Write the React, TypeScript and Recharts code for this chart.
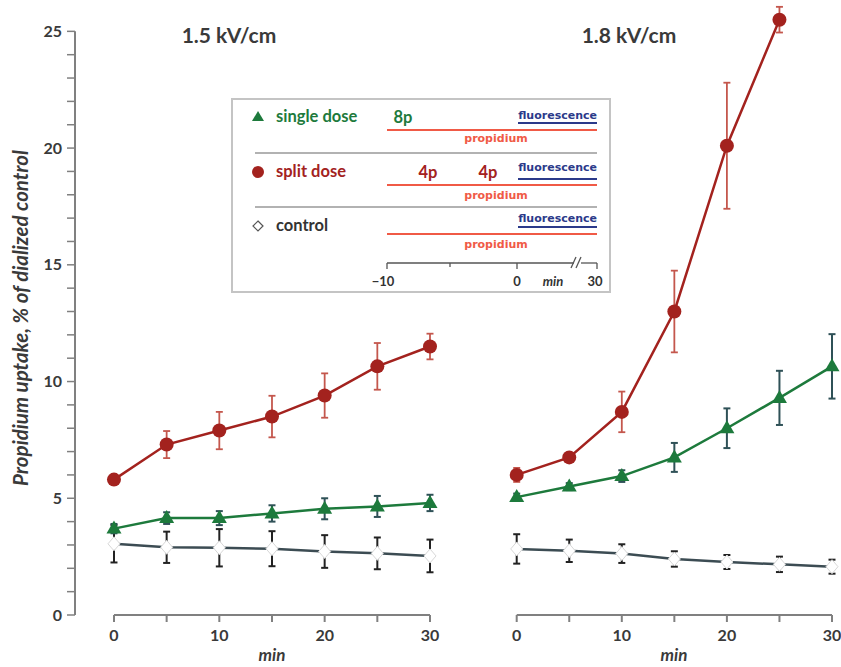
import React from "react";
import { ErrorBar, Line, LineChart, ReferenceLine, XAxis, YAxis } from "recharts";

const MINUTES = [0, 5, 10, 15, 20, 25, 30];
const X_TICKS = [0, 5, 10, 15, 20, 25, 30];
const Y_TICKS = [0, 1, 2, 3, 4, 5, 6, 7, 8, 9, 10, 11, 12, 13, 14, 15, 16, 17, 18, 19, 20, 21, 22, 23, 24, 25];

// 1.5 kV/cm
const SPLIT_15 = [5.8, 7.3, 7.9, 8.5, 9.4, 10.65, 11.5];
const SPLIT_15_ERR = [0.2, 0.58, 0.8, 0.89, 0.95, 1.0, 0.55];
const SINGLE_15 = [3.7, 4.15, 4.15, 4.35, 4.55, 4.65, 4.8];
const SINGLE_15_ERR = [0.2, 0.25, 0.3, 0.35, 0.45, 0.45, 0.35];
const CONTROL_15 = [3.05, 2.9, 2.88, 2.84, 2.72, 2.64, 2.53];
const CONTROL_15_ERR = [0.8, 0.67, 0.8, 0.75, 0.7, 0.68, 0.7];

// 1.8 kV/cm
const SPLIT_18 = [6.0, 6.75, 8.7, 13.0, 20.1, 25.5, null];
const SPLIT_18_ERR = [0.3, 0.15, 0.87, 1.75, 2.7, 0.55, null];
const SINGLE_18 = [5.05, 5.5, 5.95, 6.75, 8.0, 9.3, 10.65];
const SINGLE_18_ERR = [0.15, 0.15, 0.25, 0.62, 0.85, 1.16, 1.38];
const CONTROL_18 = [2.83, 2.75, 2.63, 2.4, 2.27, 2.17, 2.07];
const CONTROL_18_ERR = [0.63, 0.48, 0.4, 0.33, 0.3, 0.33, 0.3];

const Y_MAX = 26.3;
const LEFT_X_MIN = -3.7; // gap between y axis and first time point

const RED = "#a3221e";
const RED_ERR = "#c4574d";
const GREEN = "#1d7a3c";
const GREEN_ERR = "#2f5157";
const CONTROL = "#3c4c53";
const AXIS = "#808080";
const TEXT = "#3a3a3a";
const PROP = "#f05a46";
const FLUO = "#2b3a8a";
const FONT = "Lato, 'Open Sans', sans-serif";

const buildRows = (
  split: (number | null)[],
  splitErr: (number | null)[],
  single: number[],
  singleErr: number[],
  control: number[],
  controlErr: number[]
) =>
  MINUTES.map((m, i) => ({
    m,
    split: split[i],
    splitErr: splitErr[i],
    single: single[i],
    singleErr: singleErr[i],
    control: control[i],
    controlErr: controlErr[i],
  }));

const rows15 = buildRows(SPLIT_15, SPLIT_15_ERR, SINGLE_15, SINGLE_15_ERR, CONTROL_15, CONTROL_15_ERR);
const rows18 = buildRows(SPLIT_18, SPLIT_18_ERR, SINGLE_18, SINGLE_18_ERR, CONTROL_18, CONTROL_18_ERR);

const circleDot = (p: any) => {
  const { cx, cy, index } = p;
  if (cx == null || cy == null || p.value == null) return <g key={`c${index}`} />;
  return <circle key={`c${index}`} cx={cx} cy={cy} r={7} fill={RED} />;
};

const triangleDot = (p: any) => {
  const { cx, cy, index } = p;
  if (cx == null || cy == null) return <g key={`t${index}`} />;
  return (
    <path
      key={`t${index}`}
      d={`M${cx},${cy - 8}L${cx + 7.5},${cy + 5}L${cx - 7.5},${cy + 5}Z`}
      fill={GREEN}
    />
  );
};

const diamondDot = (p: any) => {
  const { cx, cy, index } = p;
  if (cx == null || cy == null) return <g key={`d${index}`} />;
  return (
    <path
      key={`d${index}`}
      d={`M${cx},${cy - 7}L${cx + 6},${cy}L${cx},${cy + 7}L${cx - 6},${cy}Z`}
      fill="#fff"
      stroke="#d8d8d8"
      strokeWidth={1}
    />
  );
};

const tickStyle = { fontSize: 16, fontWeight: 700, fill: TEXT, fontFamily: FONT };

const series = () => [
  <Line key="control" dataKey="control" stroke={CONTROL} strokeWidth={2.5} dot={diamondDot} activeDot={false} isAnimationActive={false}>
    <ErrorBar dataKey="controlErr" direction="y" width={3.5} stroke="#222" strokeWidth={2} />
  </Line>,
  <Line key="single" dataKey="single" stroke={GREEN} strokeWidth={2.5} dot={triangleDot} activeDot={false} isAnimationActive={false}>
    <ErrorBar dataKey="singleErr" direction="y" width={3.5} stroke={GREEN_ERR} strokeWidth={2} />
  </Line>,
  <Line key="split" dataKey="split" stroke={RED} strokeWidth={2.5} dot={circleDot} activeDot={false} isAnimationActive={false}>
    <ErrorBar dataKey="splitErr" direction="y" width={3.5} stroke={RED_ERR} strokeWidth={1.8} />
  </Line>,
];

function ScheduleRow(props: {
  y: number;
  label: string;
  color: string;
  marker: "triangle" | "circle" | "diamond";
  pulses: { text: string; x: number }[];
  fluoText: number;
  fluoLine: number;
  propLine: number;
  propText: number;
}) {
  const { y, label, color, marker, pulses, fluoText, fluoLine, propLine, propText } = props;
  return (
    <g>
      {marker === "triangle" && <path d={`M258,${y - 6}L264,${y + 4}L252,${y + 4}Z`} fill={GREEN} />}
      {marker === "circle" && <circle cx={258} cy={y} r={6} fill={RED} />}
      {marker === "diamond" && (
        <path d={`M258,${y - 5}L263,${y}L258,${y + 5}L253,${y}Z`} fill="#fff" stroke="#555" strokeWidth={1.2} />
      )}
      <text x={276} y={y + 5} fontSize={16.5} fontWeight={700} fill={color} fontFamily={FONT}>
        {label}
      </text>
      {pulses.map((p) => (
        <text key={p.x} x={p.x} y={y + 6} fontSize={16.5} fontWeight={700} fill={color} textAnchor="middle" fontFamily={FONT}>
          {p.text}
        </text>
      ))}
      <text x={597} y={fluoText + 4} fontSize={11} fontWeight={700} fill={FLUO} textAnchor="end" fontFamily="'DejaVu Sans', sans-serif">
        fluorescence
      </text>
      <line x1={518} x2={597} y1={fluoLine} y2={fluoLine} stroke={FLUO} strokeWidth={2} />
      <line x1={387} x2={597} y1={propLine} y2={propLine} stroke={PROP} strokeWidth={2} />
      <text x={496} y={propText + 4} fontSize={11} fontWeight={700} fill={PROP} textAnchor="middle" fontFamily="'DejaVu Sans', sans-serif">
        propidium
      </text>
    </g>
  );
}

function Overlay() {
  return (
    <svg width={841} height={667} style={{ position: "absolute", left: 0, top: 0, pointerEvents: "none" }}>
      <text x={229} y={43} fontSize={21} fontWeight={700} fill={TEXT} textAnchor="middle" fontFamily={FONT}>
        1.5 kV/cm
      </text>
      <text x={629} y={43} fontSize={21} fontWeight={700} fill={TEXT} textAnchor="middle" fontFamily={FONT}>
        1.8 kV/cm
      </text>
      <text
        transform="translate(28,318) rotate(-90)"
        fontSize={20.5}
        fontWeight={700}
        fontStyle="italic"
        fill={TEXT}
        textAnchor="middle"
        fontFamily={FONT}
      >
        Propidium uptake, % of dialized control
      </text>
      <text x={272} y={661} fontSize={17} fontStyle="italic" fontWeight={700} fill={TEXT} textAnchor="middle" fontFamily={FONT}>
        min
      </text>
      <text x={674} y={661} fontSize={17} fontStyle="italic" fontWeight={700} fill={TEXT} textAnchor="middle" fontFamily={FONT}>
        min
      </text>

      <rect x={232} y={99} width={378} height={193} fill="#fff" stroke="#c4c4c4" strokeWidth={2} />
      <ScheduleRow y={117} label="single dose" color={GREEN} marker="triangle" pulses={[{ text: "8p", x: 403 }]} fluoText={115} fluoLine={123} propLine={130} propText={138} />
      <line x1={255} x2={597} y1={153} y2={153} stroke="#999" strokeWidth={1.5} />
      <ScheduleRow
        y={172}
        label="split dose"
        color={RED}
        marker="circle"
        pulses={[
          { text: "4p", x: 428 },
          { text: "4p", x: 488 },
        ]}
        fluoText={167}
        fluoLine={179}
        propLine={185}
        propText={195}
      />
      <line x1={255} x2={597} y1={207} y2={207} stroke="#999" strokeWidth={1.5} />
      <ScheduleRow y={226} label="control" color="#333" marker="diamond" pulses={[]} fluoText={218} fluoLine={227} propLine={234} propText={244} />

      <g stroke="#555" strokeWidth={1.3} fill="none">
        <line x1={387} x2={574} y1={263} y2={263} />
        <line x1={581} x2={597} y1={263} y2={263} />
        <line x1={387} x2={387} y1={263} y2={269} />
        <line x1={450} x2={450} y1={263} y2={267} />
        <line x1={517} x2={517} y1={263} y2={269} />
        <line x1={597} x2={597} y1={263} y2={269} />
        <line x1={571} x2={576} y1={268} y2={257} />
        <line x1={576} x2={581} y1={268} y2={257} />
      </g>
      <g fontSize={13} fontWeight={700} fill="#333" fontFamily={FONT} textAnchor="middle">
        <text x={383} y={286}>−10</text>
        <text x={517} y={286}>0</text>
        <text x={553} y={286} fontStyle="italic">min</text>
        <text x={595} y={286}>30</text>
      </g>
    </svg>
  );
}

export default function App() {
  return (
    <div style={{ position: "absolute", left: 0, top: 0, width: 841, height: 667, background: "#fff", overflow: "hidden", fontFamily: FONT }}>
      <div style={{ position: "absolute", left: 0, top: 0 }}>
        <LineChart width={450} height={667} data={rows15} margin={{ top: 1, right: 20, bottom: 22, left: 0 }}>
          <XAxis
            dataKey="m"
            type="number"
            domain={[LEFT_X_MIN, 30]}
            ticks={X_TICKS}
            tickFormatter={(v: number) => (v % 10 === 0 ? String(v) : "")}
            axisLine={false}
            tickLine={{ stroke: AXIS, strokeWidth: 2 }}
            tickSize={7}
            tickMargin={8}
            height={30}
            tick={tickStyle}
            interval={0}
          />
          <YAxis
            type="number"
            domain={[0, Y_MAX]}
            ticks={Y_TICKS}
            tickFormatter={(v: number) => (v % 5 === 0 ? String(v) : "")}
            axisLine={false}
            tickLine={{ stroke: AXIS, strokeWidth: 1.5 }}
            tickSize={8}
            tickMargin={5}
            width={75}
            tick={tickStyle}
            interval={0}
          />
          <ReferenceLine segment={[{ x: LEFT_X_MIN, y: 0 }, { x: LEFT_X_MIN, y: 25 }]} stroke={AXIS} strokeWidth={2} />
          <ReferenceLine segment={[{ x: 0, y: 0 }, { x: 30, y: 0 }]} stroke={AXIS} strokeWidth={2} />
          {series()}
        </LineChart>
      </div>
      <div style={{ position: "absolute", left: 450, top: 0 }}>
        <LineChart width={391} height={667} data={rows18} margin={{ top: 1, right: 9, bottom: 22, left: 66.7 }}>
          <XAxis
            dataKey="m"
            type="number"
            domain={[0, 30]}
            ticks={X_TICKS}
            tickFormatter={(v: number) => (v % 10 === 0 ? String(v) : "")}
            axisLine={{ stroke: AXIS, strokeWidth: 2 }}
            tickLine={{ stroke: AXIS, strokeWidth: 2 }}
            tickSize={7}
            tickMargin={8}
            height={30}
            tick={tickStyle}
            interval={0}
          />
          <YAxis type="number" domain={[0, Y_MAX]} hide />
          {series()}
        </LineChart>
      </div>
      <Overlay />
    </div>
  );
}
